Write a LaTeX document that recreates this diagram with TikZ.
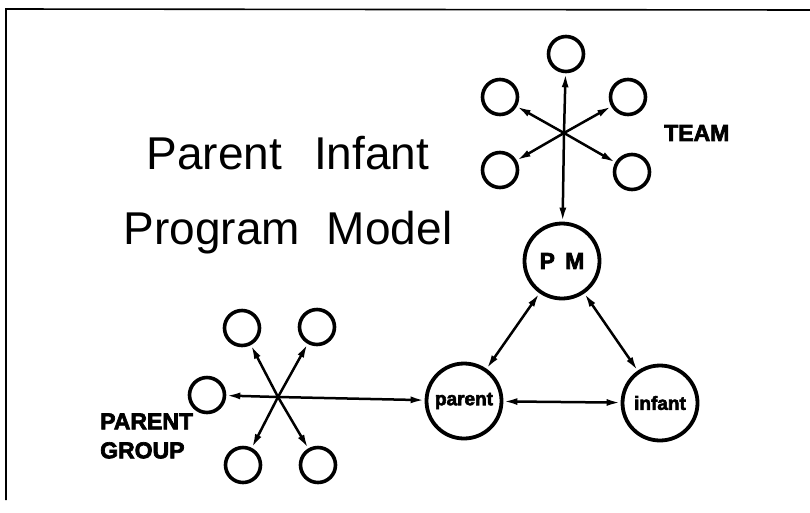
\documentclass[tikz,border=0pt]{standalone}
\usepackage{fontspec}
\setmainfont{Liberation Sans}
\newfontfamily\heavyfont[BoldFeatures={FakeBold=3}]{Liberation Sans}
\usetikzlibrary{arrows.meta}
\begin{document}
\begin{tikzpicture}[x=1pt,y=-1pt,
  leaf/.style={circle,draw,line width=3.6pt,minimum size=35pt,inner sep=0pt},
  hubnode/.style={circle,draw,line width=3.8pt,minimum size=75pt,inner sep=0pt,
    font=\fontsize{19}{19}\heavyfont\bfseries},
  link/.style={line width=2.5pt,-{Latex[length=14pt,width=7pt]}},
  both/.style={line width=2.5pt,{Latex[length=14pt,width=7pt]}-{Latex[length=14pt,width=7pt]}},
  grouplabel/.style={font=\fontsize{23}{29}\heavyfont\bfseries,align=left,inner sep=0pt},
  title/.style={font=\fontsize{46}{75}\selectfont,align=center,inner sep=0pt}]
\useasboundingbox (0,0) rectangle (810,512);
% frame
\draw[line width=1.6pt] (6,500) -- (6,9) -- (810,10);

% title
\node[title] (ttl) at (288,195) {Parent\hspace{32pt}Infant\\Program\hspace{27pt}Model};

% program model core
\node[hubnode] (pm) at (562,261) {\fontsize{23}{23}\selectfont P\hspace{0.45em}M};
\node[hubnode] (parent) at (464,401) {parent};
\node[hubnode] (infant) at (660,403) {infant};

% team
\coordinate (th) at (564,133);
\node[leaf] (t1) at (566,54) {};
\node[leaf] (t2) at (500,97) {};
\node[leaf] (t3) at (628,97) {};
\node[leaf] (t4) at (500,170) {};
\node[leaf] (t5) at (632,172) {};
\node[grouplabel,anchor=west] (teamlbl) at (664,133) {TEAM};

% parent group
\coordinate (gh) at (278,397);
\node[leaf] (g1) at (242,328) {};
\node[leaf] (g2) at (317,327) {};
\node[leaf] (g3) at (207,395) {};
\node[leaf] (g4) at (243,465) {};
\node[leaf] (g5) at (318,465) {};
\node[grouplabel,anchor=west] (grplbl) at (100,436) {PARENT\\GROUP};

% connectors
\foreach \n in {t1,t2,t3,t4,t5,pm} \draw[link] (th) -- (\n);
\foreach \n in {g1,g2,g3,g4,g5,parent} \draw[link] (gh) -- (\n);
\draw[both] (pm) -- (parent);
\draw[both] (pm) -- (infant);
\draw[both] (parent) -- (infant);
\end{tikzpicture}
\end{document}
